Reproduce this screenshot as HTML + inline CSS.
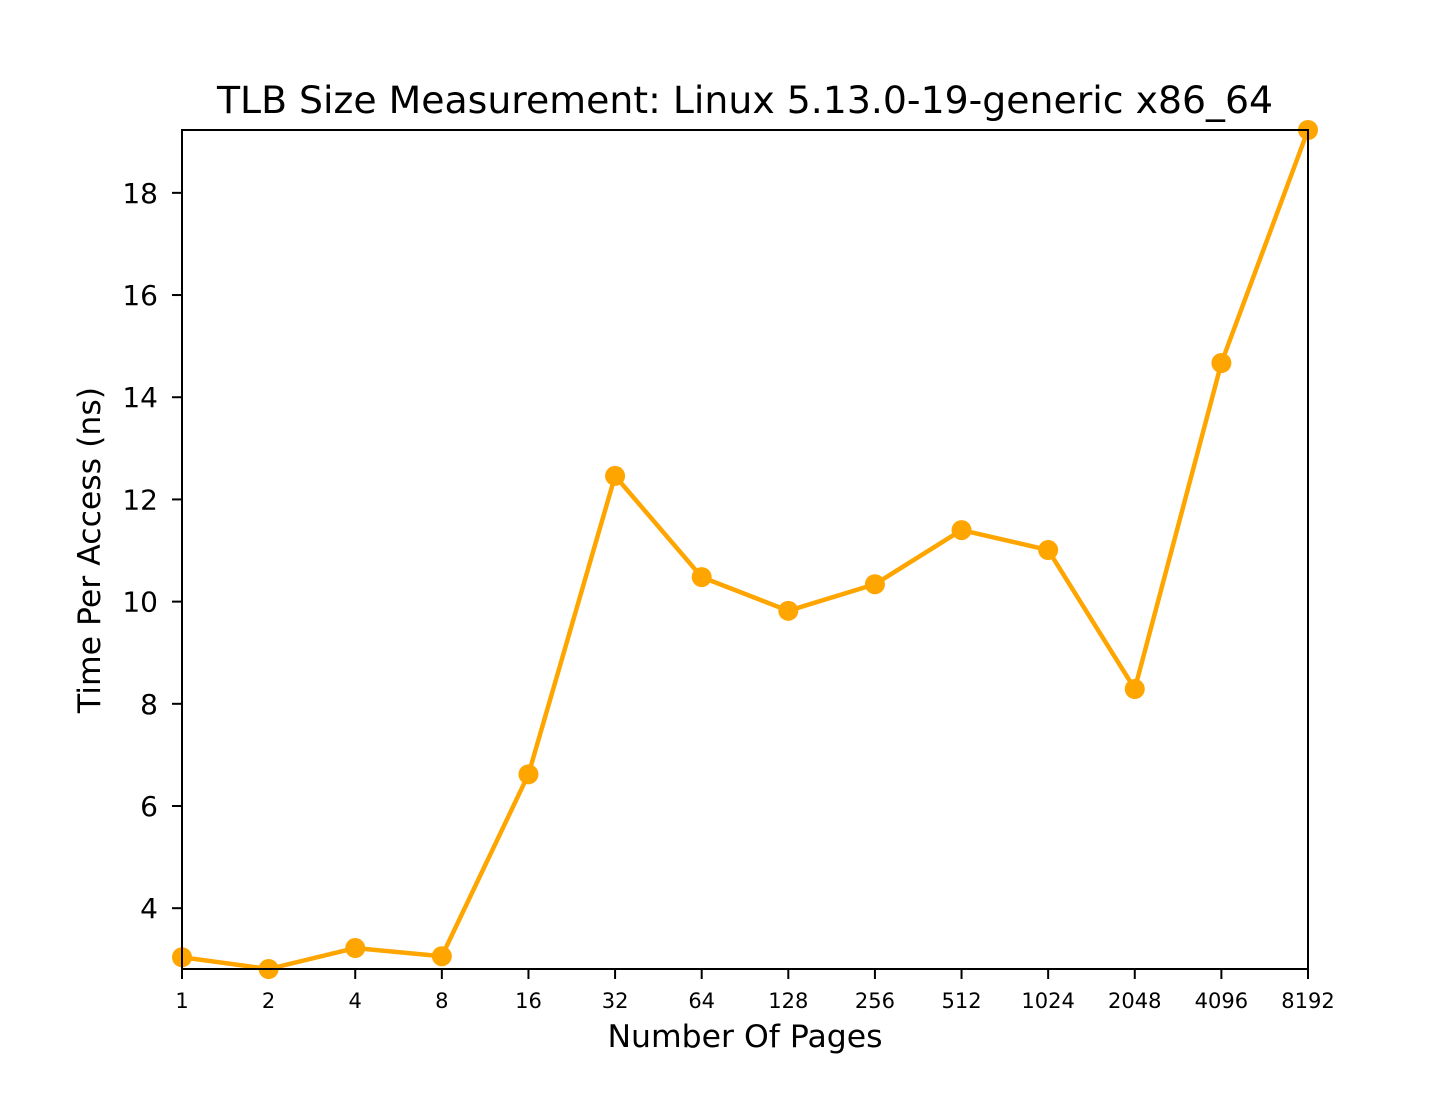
<!DOCTYPE html>
<html><head><meta charset="utf-8"><style>
html,body{margin:0;padding:0;background:#fff;}
svg text{font-family:"DejaVu Sans","Liberation Sans",sans-serif;fill:#000;}
</style></head><body>
<svg id="chart" width="1452" height="1089" xmlns="http://www.w3.org/2000/svg">
<rect width="1452" height="1089" fill="#fff"/>
<text x="745" y="113" font-size="37.8" text-anchor="middle">TLB Size Measurement: Linux 5.13.0-19-generic x86_64</text>
<text x="745" y="1047" font-size="31.5" text-anchor="middle">Number Of Pages</text>
<text transform="translate(100,550) rotate(-90)" font-size="31.5" text-anchor="middle">Time Per Access (ns)</text>
<g id="ticks"></g>
<g id="series"></g>
<rect x="182" y="130" width="1126" height="839" fill="none" stroke="#000" stroke-width="2"/>
</svg>
<script>
const categories = ["1","2","4","8","16","32","64","128","256","512","1024","2048","4096","8192"];
const values = [3.04, 2.81, 3.22, 3.06, 6.62, 12.46, 10.48, 9.82, 10.34, 11.40, 11.01, 8.29, 14.67, 19.23];
const yTicks = [4, 6, 8, 10, 12, 14, 16, 18];

const NS = "http://www.w3.org/2000/svg";
const L = 182, R = 1308, T = 130, B = 969;
const yMin = Math.min(...values), yMax = Math.max(...values);
const xs = i => L + i * (R - L) / (categories.length - 1);
const ys = v => B - (v - yMin) / (yMax - yMin) * (B - T);

const tg = document.getElementById('ticks');
function mk(tag, attrs, parent){ const e = document.createElementNS(NS, tag); for (const k in attrs) e.setAttribute(k, attrs[k]); parent.appendChild(e); return e; }

yTicks.forEach(v => {
  const y = ys(v);
  const ln = mk('line', {x1: L - 10, x2: L, y1: y, y2: y, stroke: '#000', 'stroke-width': 2}, tg);
  
  
  const t = mk('text', {x: L - 24, y: y + 10, 'font-size': 28, 'text-anchor': 'end'}, tg);
  t.textContent = v;
  
  
});
categories.forEach((c, i) => {
  const x = xs(i);
  const ln = mk('line', {x1: x, x2: x, y1: B, y2: B + 10, stroke: '#000', 'stroke-width': 2}, tg);
  
  
  const t = mk('text', {x: x, y: 1008, 'font-size': 21, 'text-anchor': 'middle'}, tg);
  t.textContent = c;
  
  
});

const sg = document.getElementById('series');
const pts = values.map((v, i) => xs(i) + ',' + ys(v)).join(' ');
const pl = mk('polyline', {points: pts, fill: 'none', stroke: '#FFA500', 'stroke-width': 4.5, 'stroke-linejoin': 'round'}, sg);


values.forEach((v, i) => {
  const c = mk('circle', {cx: xs(i), cy: ys(v), r: 10, fill: '#FFA500'}, sg);
  
  
});
</script>
</body></html>
